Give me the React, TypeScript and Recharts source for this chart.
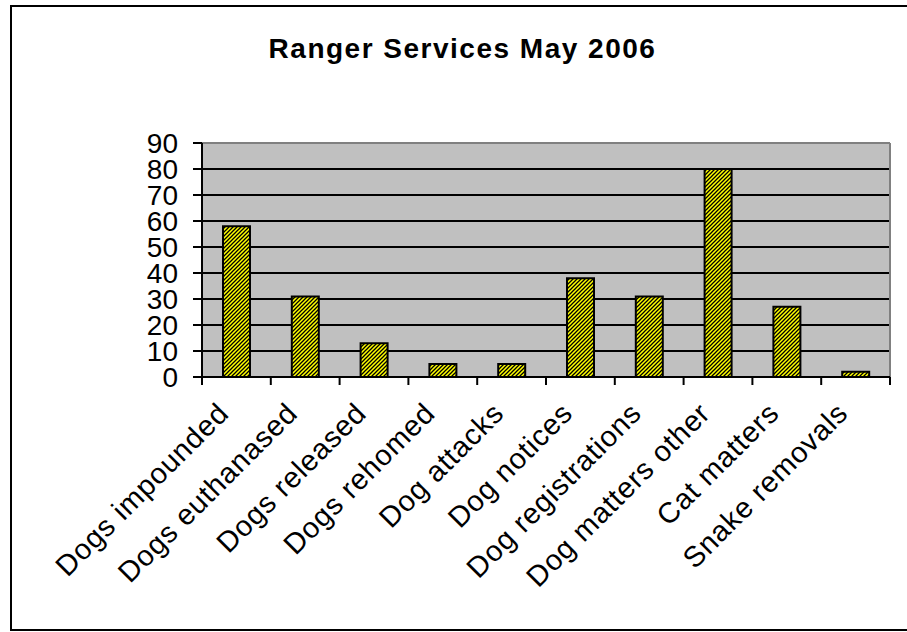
import { BarChart, Bar, XAxis, YAxis, CartesianGrid } from "recharts";

// Ranger Services May 2006 — Excel-style hatched column chart.

const categories = [
  "Dogs impounded",
  "Dogs euthanased",
  "Dogs released",
  "Dogs rehomed",
  "Dog attacks",
  "Dog notices",
  "Dog registrations",
  "Dog matters other",
  "Cat matters",
  "Snake removals",
];
const counts = [58, 31, 13, 5, 5, 38, 31, 80, 27, 2];
const yTicks = [0, 10, 20, 30, 40, 50, 60, 70, 80, 90];

const data = categories.map((name, i) => ({ name, idx: i, value: counts[i] }));

const FONT = '"Liberation Sans", Arial, sans-serif';
const PLOT_BG = "#c0c0c0";
const BORDER_GRAY = "#808080";

function HLine(props: any) {
  const { x1, y1, x2, y2, y } = props;
  const top = y !== undefined && Math.abs(y1 - y) < 0.5;
  return (
    <line
      key={`h-${y1}`}
      x1={x1}
      y1={y1}
      x2={x2}
      y2={y2}
      stroke={top ? BORDER_GRAY : "#000"}
      strokeWidth={2}
    />
  );
}

function VLine(props: any) {
  const { x1, y1, x2, y2, x, width } = props;
  const right = x !== undefined && Math.abs(x1 - (x + width)) < 0.5;
  if (!right) return <g key={`v-${x1}`} />;
  return <line key={`v-${x1}`} x1={x1} y1={y1} x2={x2} y2={y2} stroke={BORDER_GRAY} strokeWidth={2} />;
}

// category label plus Excel-style tick marks on the category boundaries
function CatTick(props: any) {
  const { x, y, payload, index } = props;
  const half = payload?.offset ?? 0;
  const tx = x - 6;
  const ty = y + 38;
  const last = index === categories.length - 1;
  return (
    <g>
      <line x1={x - half} y1={y} x2={x - half} y2={y + 8} stroke="#000" strokeWidth={2} />
      {last ? <line x1={x + half} y1={y} x2={x + half} y2={y + 8} stroke="#000" strokeWidth={2} /> : null}
      <text
        x={tx}
        y={ty}
        transform={`rotate(-45 ${tx} ${ty})`}
        textAnchor="end"
        fontSize={29}
        fontFamily={FONT}
        fill="#000"
        letterSpacing={0.8}
      >
        {payload.value}
      </text>
    </g>
  );
}

export default function App() {
  return (
    <div style={{ position: "absolute", left: 0, top: 0, width: 907, height: 632, overflow: "hidden", background: "#fff" }}>
      <div
        style={{
          position: "absolute",
          left: 10,
          top: 5,
          width: 920,
          height: 626,
          boxSizing: "border-box",
          border: "2px solid #000",
        }}
      />
      <div
        style={{
          position: "absolute",
          left: 0,
          top: 35,
          width: 925,
          textAlign: "center",
          fontFamily: FONT,
          fontWeight: "bold",
          fontSize: 28,
          lineHeight: "28px",
          letterSpacing: 1.5,
          color: "#000",
        }}
      >
        Ranger Services May 2006
      </div>
      <div style={{ position: "absolute", left: 0, top: 0 }}>
        <BarChart
          width={907}
          height={632}
          data={data}
          margin={{ top: 143, right: 17, bottom: 0, left: 0 }}
        >
          <defs>
            <pattern id="hatch" patternUnits="userSpaceOnUse" width={4} height={4}>
              <rect width={4} height={4} fill="#ffff00" />
              <path d="M-1,1 l2,-2 M0,4 l4,-4 M3,5 l2,-2" stroke="#000" strokeWidth={1.3} />
            </pattern>
          </defs>
          <CartesianGrid
            xAxisId="edge"
            fill={PLOT_BG}
            fillOpacity={1}
            horizontal={HLine}
            vertical={VLine}
          />
          <XAxis
            xAxisId="cat"
            dataKey="name"
            height={255}
            interval={0}
            axisLine={{ stroke: "#000", strokeWidth: 2 }}
            tickLine={false}
            tickSize={0}
            tickMargin={0}
            tick={<CatTick />}
          />
          <XAxis xAxisId="edge" type="number" dataKey="idx" domain={[0, 10]} ticks={[10]} allowDataOverflow hide />
          <YAxis
            width={202}
            domain={[0, 90]}
            ticks={yTicks}
            interval={0}
            tickSize={9}
            tickMargin={15}
            axisLine={{ stroke: "#000", strokeWidth: 2 }}
            tickLine={{ stroke: "#000", strokeWidth: 2 }}
            tick={{ fontSize: 28, fontFamily: FONT, fill: "#000" }}
          />
          <Bar
            xAxisId="cat"
            dataKey="value"
            barSize={27}
            fill="url(#hatch)"
            stroke="#000"
            strokeWidth={2}
            isAnimationActive={false}
          />
        </BarChart>
      </div>
    </div>
  );
}
